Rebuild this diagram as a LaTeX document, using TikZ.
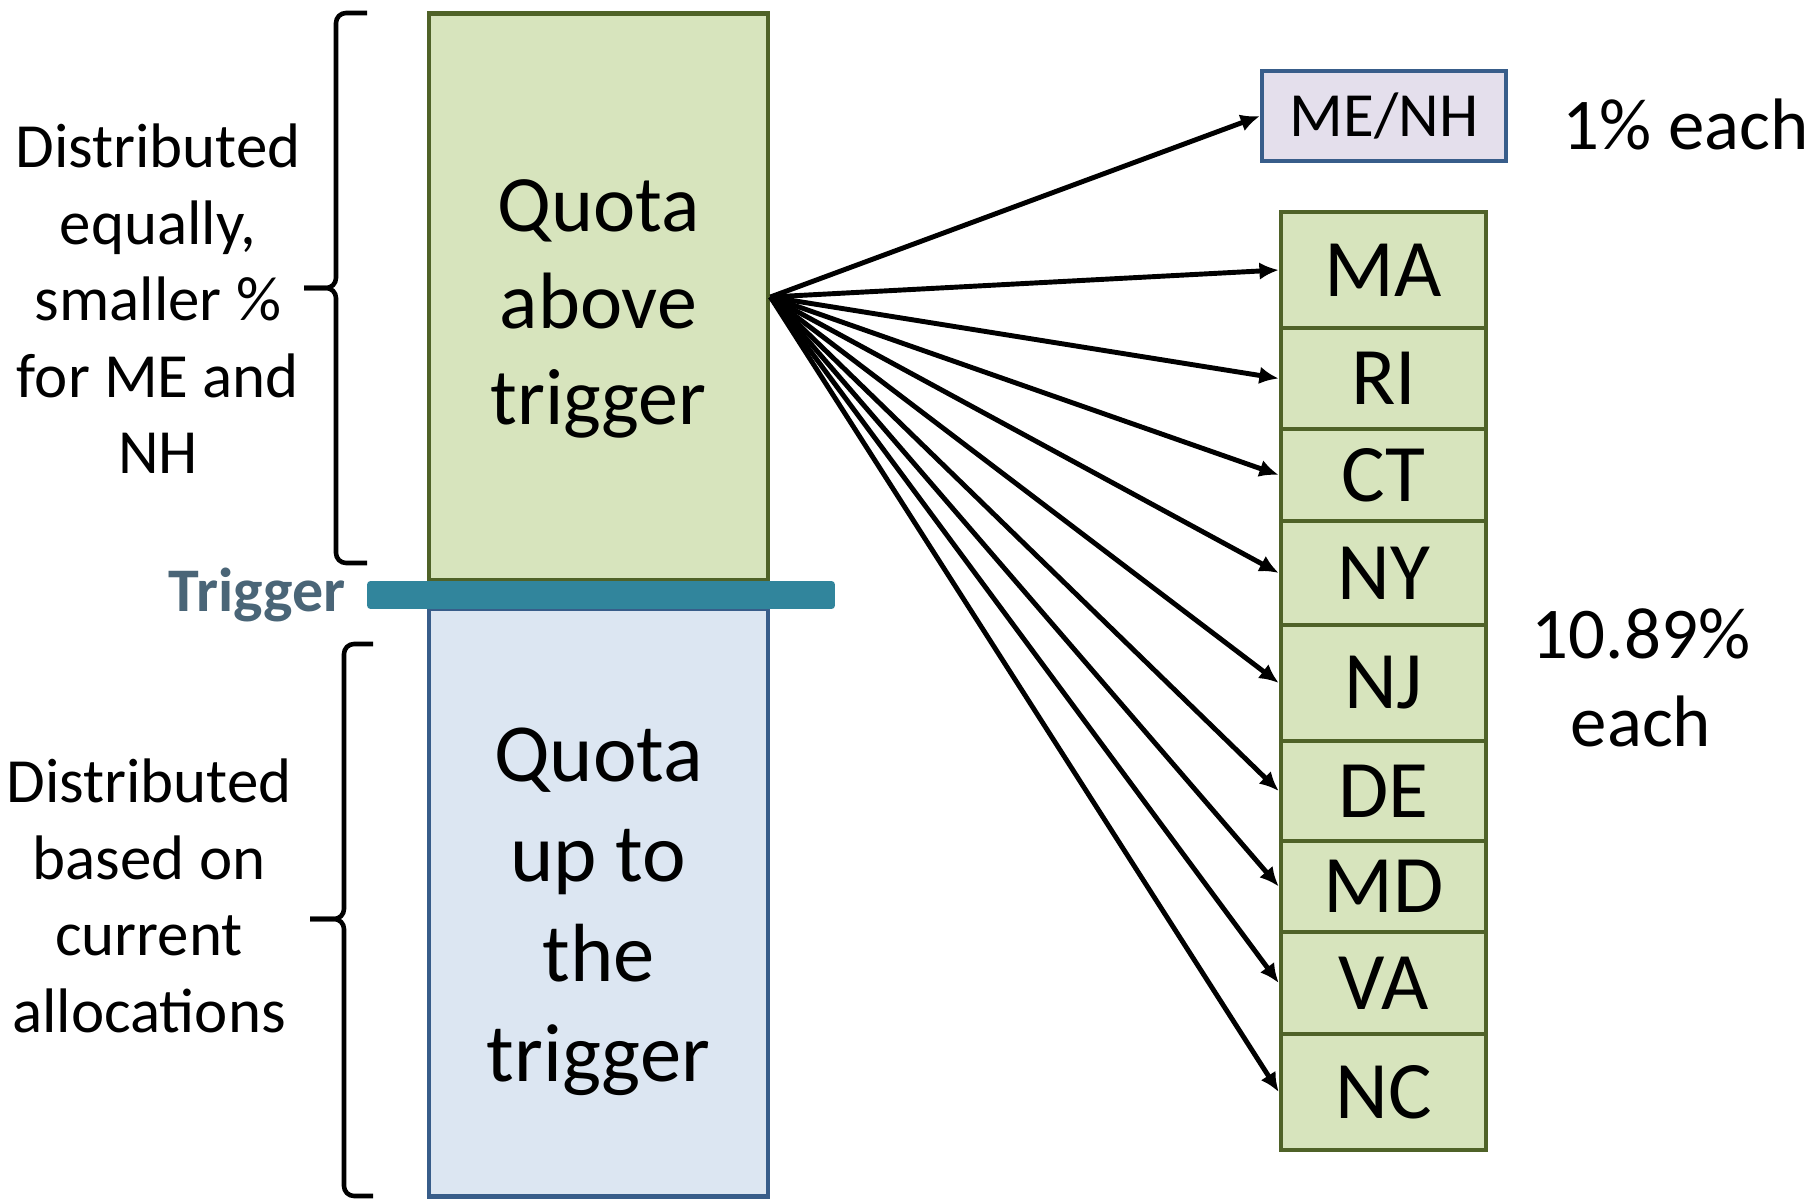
\documentclass[tikz,border=0pt]{standalone}
\usepackage{fontspec}
\setmainfont{Carlito}
\usepackage{xcolor}
\usetikzlibrary{arrows.meta,positioning}

\definecolor{quotagreen}{HTML}{D7E4BD}
\definecolor{greenedge}{HTML}{4F6228}
\definecolor{quotablue}{HTML}{DCE6F2}
\definecolor{blueedge}{HTML}{385D8A}
\definecolor{lavender}{HTML}{E4DFEC}
\definecolor{triggerbar}{HTML}{31859C}
\definecolor{triggertext}{HTML}{4A6577}

\begin{document}
\begin{tikzpicture}[
    x=0.02cm, y=-0.02cm,
    column/.style={draw, line width=2.8pt, minimum width=6.78cm, inner sep=0pt},
    state/.style={draw=greenedge, fill=quotagreen, line width=2.6pt, minimum width=4.1cm, inner sep=0pt, font=\fontsize{46.5}{54}\selectfont},
    side/.style={align=center, inner sep=0pt, font=\fontsize{35.8}{43.5}\selectfont},
    share/.style={align=center, inner sep=0pt, font=\fontsize{41.5}{50}\selectfont},
    feed/.style={-{Latex[length=11pt,width=10pt]}, line width=2.8pt},
    curly/.style={line width=2.6pt, rounded corners=0.2cm}
  ]
    \useasboundingbox (0,0) rectangle (1812,1199);

    % Quota columns
    \node[column, draw=greenedge, fill=quotagreen, minimum height=11.36cm] (above) at (598.5,297) {};
    \node[column, draw=blueedge, fill=quotablue, minimum height=11.78cm] (upto) at (598.5,902.5) {};
    \node[align=center, font=\fontsize{45.5}{55}\selectfont] (abovetext) at (598.5,309) {Quota\\above\\trigger};
    \node[align=center, font=\fontsize{47}{57}\selectfont] (uptotext) at (598.5,912) {Quota\\up to\\the\\trigger};

    % Trigger
    \node[fill=triggerbar, rounded corners=2pt, minimum width=9.36cm, minimum height=0.56cm, inner sep=0pt] (bar) at (601,595) {};
    \node[left=0.42cm of bar, inner sep=0pt, text=triggertext, font=\fontsize{35.3}{42}\selectfont\bfseries] (trig) {Trigger};

    % Braces
    \draw[curly] (367,13) -- (336,13) -- (336,288) -- (304,288);
    \draw[curly] (304,288) -- (336,288) -- (336,563) -- (367,563);
    \draw[curly] (373,644) -- (344,644) -- (344,919) -- (310,919);
    \draw[curly] (310,919) -- (344,919) -- (344,1196) -- (373,1196);

    % Side notes
    \node[side] (equal) at (158,299) {Distributed\\equally,\\smaller \%\\for ME and\\NH};
    \node[side] (current) at (149,896) {Distributed\\based on\\current\\allocations};

    % ME/NH
    \node[draw=blueedge, fill=lavender, line width=2.4pt, minimum width=4.88cm, minimum height=1.8cm, inner sep=0pt, font=\fontsize{35.8}{42}\selectfont] (menh) at (1384,116) {ME/NH};
    \node[share, right=1.08cm of menh, yshift=-0.16cm] (small) {1\% each};

    % States
    \node[state, minimum height=2.32cm] (ma) at (1383.5,270) {MA};
    \node[state, minimum height=2.02cm] (ri) at (1383.5,378.5) {RI};
    \node[state, minimum height=1.84cm] (ct) at (1383.5,475) {CT};
    \node[state, minimum height=2.08cm] (ny) at (1383.5,573) {NY};
    \node[state, minimum height=2.32cm] (nj) at (1383.5,683) {NJ};
    \node[state, minimum height=2.00cm] (de) at (1383.5,791) {DE};
    \node[state, minimum height=1.82cm] (md) at (1383.5,886.5) {MD};
    \node[state, minimum height=2.04cm] (va) at (1383.5,983) {VA};
    \node[state, minimum height=2.32cm] (nc) at (1383.5,1092) {NC};
    \node[share] (large) at (1641,678) {10.89\%\\each};

    % Arrows
    \draw[feed] (above.east) -- (menh.west);
    \draw[feed] (above.east) -- (ma.west);
    \draw[feed] (above.east) -- (ri.west);
    \draw[feed] (above.east) -- (ct.west);
    \draw[feed] (above.east) -- (ny.west);
    \draw[feed] (above.east) -- (nj.west);
    \draw[feed] (above.east) -- (de.west);
    \draw[feed] (above.east) -- (md.west);
    \draw[feed] (above.east) -- (va.west);
    \draw[feed] (above.east) -- (nc.west);
  \end{tikzpicture}
\end{document}
